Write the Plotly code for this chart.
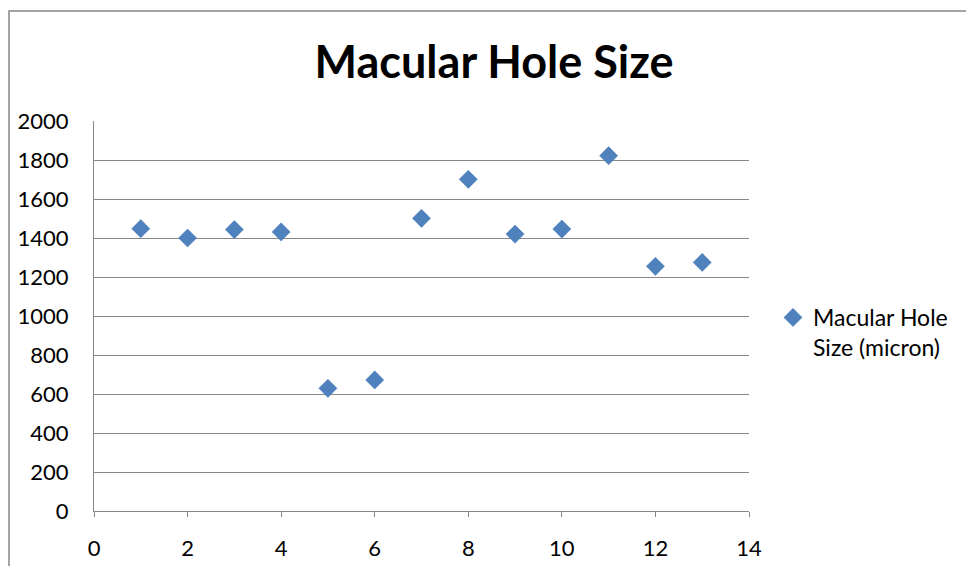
import plotly.graph_objects as go

x_vals = [1, 2, 3, 4, 5, 6, 7, 8, 9, 10, 11, 12, 13]
y_vals = [1448, 1400, 1443, 1431, 629, 672, 1501, 1701, 1420, 1446, 1822, 1255, 1275]
series_name = "Macular Hole<br>Size (micron)"
title_text = "Macular Hole Size"
x_ticks = [0, 2, 4, 6, 8, 10, 12, 14]
y_ticks = [0, 200, 400, 600, 800, 1000, 1200, 1400, 1600, 1800, 2000]

grid = "#878787"
font_fam = "Lato, 'Open Sans', sans-serif"

fig = go.Figure()
fig.add_trace(go.Scatter(
    x=x_vals, y=y_vals, mode="markers", name=series_name,
    marker=dict(symbol="diamond", size=14, color="#4F81BD",
                line=dict(width=0.5, color="#4A7EBB")),
    showlegend=True,
))

fig.update_layout(
    width=966, height=566,
    margin=dict(l=94, r=217, t=121, b=55, autoexpand=False),
    paper_bgcolor="white", plot_bgcolor="white",
    font=dict(family=font_fam, size=22, color="black"),
    title=dict(text="<b>" + title_text + "</b>", x=494 / 966, xanchor="center",
               y=1 - 62 / 566, yanchor="middle", yref="container",
               font=dict(size=45, family=font_fam, color="black")),
    xaxis=dict(range=[0, 14], tickvals=x_ticks, showgrid=False, zeroline=False,
               showline=True, linecolor=grid, linewidth=1,
               ticks="outside", ticklen=5, tickcolor=grid, tickwidth=1,
               ticklabelstandoff=13, automargin=False,
               tickfont=dict(size=22)),
    yaxis=dict(range=[0, 2000], tickvals=y_ticks, showgrid=True, gridcolor=grid,
               gridwidth=1, zeroline=False, showline=True, linecolor=grid,
               linewidth=1, ticks="", ticklabelstandoff=20, automargin=False,
               tickfont=dict(size=22)),
    legend=dict(x=(773 - 94) / 655, xanchor="left", y=(511 - 296) / 390,
                yanchor="top", valign="top", font=dict(size=23),
                bgcolor="rgba(0,0,0,0)", itemwidth=30),
    shapes=[dict(type="rect", xref="paper", yref="paper",
                 x0=(9 - 94) / 655, x1=(990 - 94) / 655,
                 y0=(511 - 590) / 390, y1=(511 - 11) / 390,
                 line=dict(color="#868686", width=1.5), fillcolor="rgba(0,0,0,0)",
                 layer="below")],
)

fig.write_html("out.html")
